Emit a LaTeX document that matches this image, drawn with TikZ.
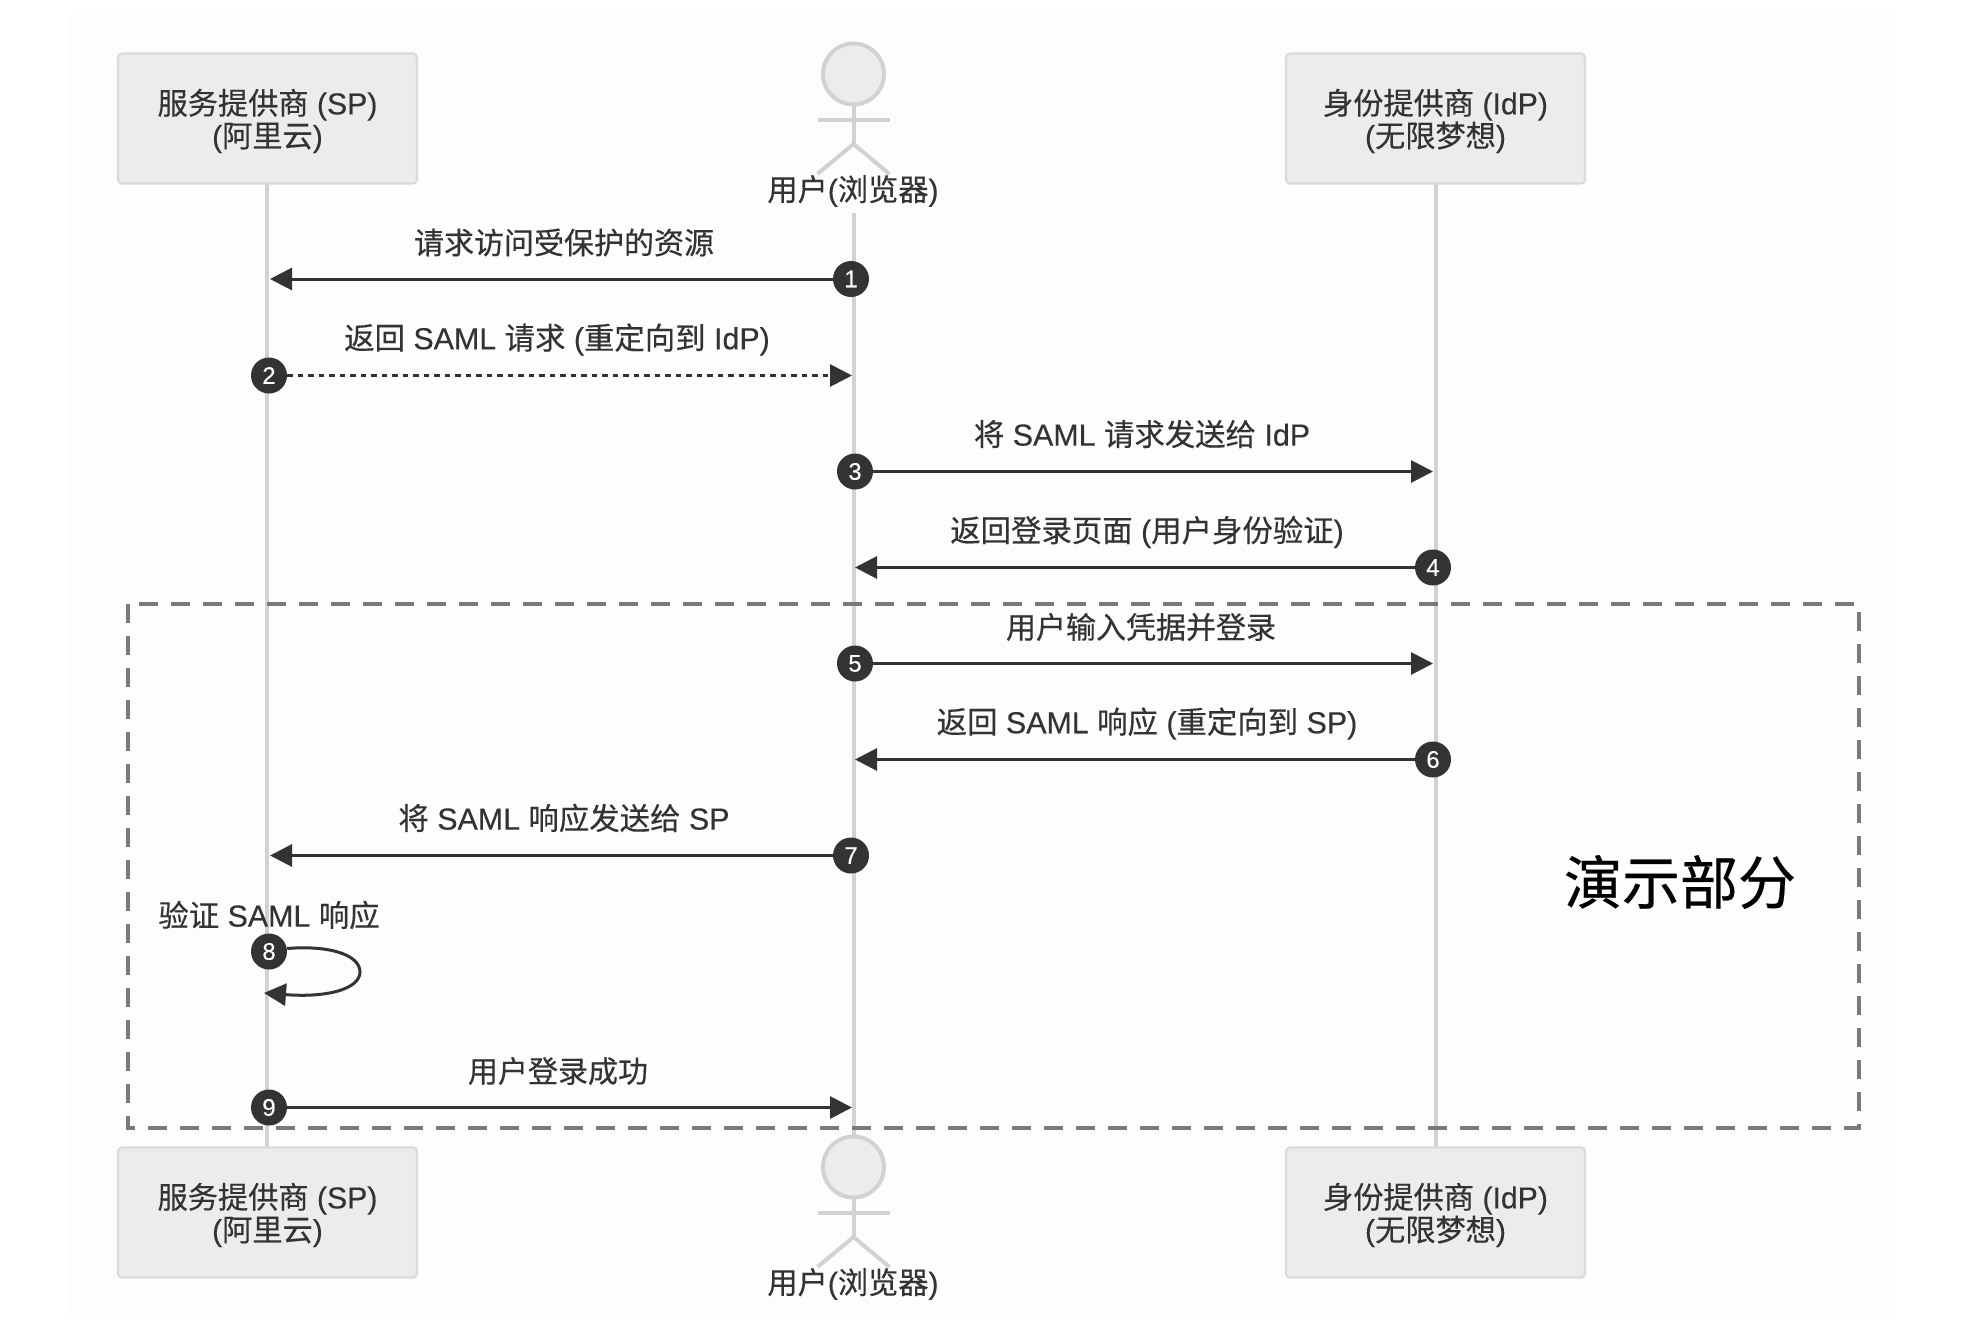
\documentclass[tikz,border=0pt]{standalone}
\usepackage{fontspec}
\setmainfont[RawFeature={embolden=0.3}]{Liberation Sans}
\newfontfamily\cjk[RawFeature={embolden=0.4}]{Noto Sans CJK SC}
\newcommand{\cj}[1]{{\cjk #1}}
\newcommand{\partytext}[2]{\parbox{280pt}{\centering\vspace{5pt}#1\\#2}}
\usetikzlibrary{arrows.meta}
\definecolor{ink}{HTML}{333333}
\definecolor{lifeln}{HTML}{D2D2D2}
\definecolor{boxfill}{HTML}{ECECEC}
\definecolor{boxedge}{HTML}{DADADA}
\definecolor{framecol}{HTML}{7A7A7A}
\definecolor{paper}{HTML}{FDFDFD}
\tikzset{
  x=1pt,y=-1pt,
  party/.style={draw=boxedge,line width=2.2pt,fill=boxfill,rounded corners=4pt,minimum width=299pt,minimum height=130pt,inner sep=0pt,
    text=ink,align=center,font=\fontsize{30.2}{32.6}\selectfont},
  lifeline/.style={draw=lifeln,line width=4pt},
  limb/.style={draw=lifeln,line width=4pt},
  stepdot/.style={circle,fill=ink,text=white,minimum size=36pt,inner sep=0pt,font=\fontsize{24}{24}\selectfont},
  msg/.style={draw=ink,line width=3pt,-{Triangle[length=22pt,width=22pt]},shorten >=0pt},
  reply/.style={msg,dash pattern=on 5.5pt off 5pt},
  msgtext/.style={text=ink,inner sep=0pt,font=\fontsize{30.4}{34}\selectfont},
  plaintext/.style={text=ink,inner sep=0pt,font=\fontsize{30}{34}\selectfont},
  actortext/.style={text=ink,inner sep=0pt,font=\fontsize{30.2}{34}\selectfont},
}
% a stick figure whose head is centred at (#1,#2)
\newcommand{\stickman}[3]{
  \draw[limb,fill=boxfill] (#1,#2) circle[radius=30.5pt];
  \draw[limb] (#1,#2+31) -- (#1,#2+70);
  \draw[limb] (#1-36,#2+46) -- (#1+36,#2+46);
  \draw[limb] (#1-36,#2+100) -- (#1,#2+70) -- (#1+36,#2+100);
  \node[actortext] (#3) at (#1-0.5,#2+117) {\cj{用户}(\cj{浏览器})};
}
\begin{document}
\begin{tikzpicture}
\useasboundingbox[fill=white] (0,0) rectangle (1966,1344);
\fill[fill=paper] (70,15) rectangle (1895,1318);

% lifelines
\coordinate (spTop) at (267,184);   \coordinate (spEnd) at (267,1147);
\coordinate (usrTop) at (853.5,213); \coordinate (usrEnd) at (853.5,1136);
\coordinate (idpTop) at (1436,184); \coordinate (idpEnd) at (1436,1147);
\draw[lifeline] (spTop) -- (spEnd);
\draw[lifeline] (usrTop) -- (usrEnd);
\draw[lifeline] (idpTop) -- (idpEnd);

% participants, top row
\node[party] (spA) at (267.5,118.5) {\partytext{\cj{服务提供商} (SP)}{(\cj{阿里云})}};
\node[party] (idpA) at (1435.5,118.5) {\partytext{\cj{身份提供商} (IdP)}{(\cj{无限梦想})}};
\stickman{853.5}{74}{usrA}

% participants, bottom row
\node[party] (spB) at (267.5,1212.5) {\partytext{\cj{服务提供商} (SP)}{(\cj{阿里云})}};
\node[party] (idpB) at (1435.5,1212.5) {\partytext{\cj{身份提供商} (IdP)}{(\cj{无限梦想})}};
\stickman{853.5}{1167}{usrB}

% message end points on the lifelines
\coordinate (t1) at (270,279);
\coordinate (t2) at (852,375.5);
\coordinate (t3) at (1433,471.5);
\coordinate (t4) at (855,567.5);
\coordinate (t5) at (1433,663.5);
\coordinate (t6) at (855,759.5);
\coordinate (t7) at (270,855.5);
\coordinate (t8) at (264,993);
\coordinate (t9) at (852,1107.5);

% numbered message origins
\node[stepdot] (s1) at (851,279) {1};
\node[stepdot] (s2) at (269,375.5) {2};
\node[stepdot] (s3) at (855,471.5) {3};
\node[stepdot] (s4) at (1433,567.5) {4};
\node[stepdot] (s5) at (855,663.5) {5};
\node[stepdot] (s6) at (1433,759.5) {6};
\node[stepdot] (s7) at (851,855.5) {7};
\node[stepdot] (s8) at (269,951.5) {8};
\node[stepdot] (s9) at (269,1107.5) {9};

% messages
\draw[msg] (s1) -- (t1);
\draw[reply] (s2) -- (t2);
\draw[msg] (s3) -- (t3);
\draw[msg] (s4) -- (t4);
\draw[msg] (s5) -- (t5);
\draw[msg] (s6) -- (t6);
\draw[msg] (s7) -- (t7);
\draw[msg] (s8.east) ++(0,-3) .. controls (330,945) and (360,955) .. (360,972) .. controls (360,988) and (330,998) .. (t8);
\draw[msg] (s9) -- (t9);

% message labels
\node[plaintext] (m1) at (564,242.5) {\cj{请求访问受保护的资源}};
\node[msgtext] (m2) at (557,339.5) {\cj{返回} SAML \cj{请求} (\cj{重定向到} IdP)};
\node[msgtext] (m3) at (1142,434) {\cj{将} SAML \cj{请求发送给} IdP};
\node[msgtext] (m4) at (1147,532) {\cj{返回登录页面} (\cj{用户身份验证})};
\node[plaintext] (m5) at (1141,627) {\cj{用户输入凭据并登录}};
\node[msgtext] (m6) at (1147,723.5) {\cj{返回} SAML \cj{响应} (\cj{重定向到} SP)};
\node[msgtext] (m7) at (564,818) {\cj{将} SAML \cj{响应发送给} SP};
\node[msgtext] (m8) at (269,915) {\cj{验证} SAML \cj{响应}};
\node[plaintext] (m9) at (558,1071) {\cj{用户登录成功}};

% highlighted region
\draw[draw=framecol,line width=3.5pt,dash pattern=on 19pt off 13pt] (128,604) rectangle (1859,1128);
\node[inner sep=0pt,text=black,font=\fontsize{58}{60}\selectfont] (demo) at (1680,882) {\cj{演示部分}};
\end{tikzpicture}
\end{document}
